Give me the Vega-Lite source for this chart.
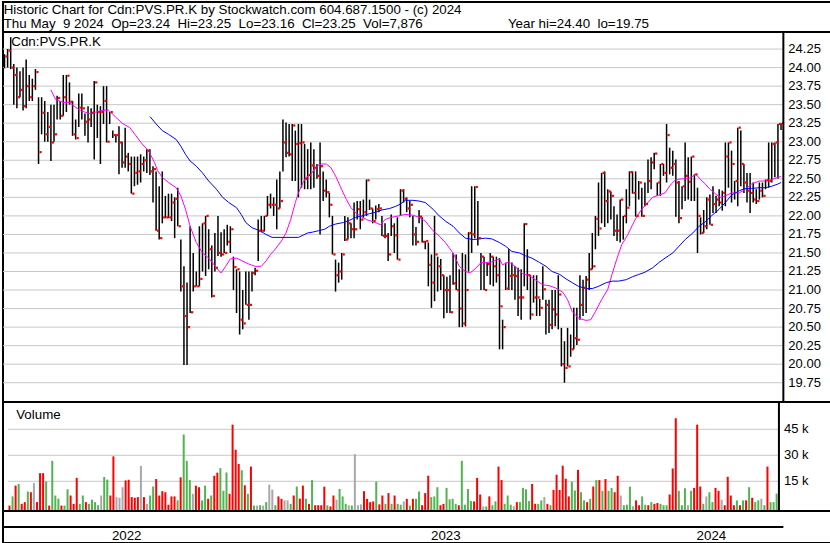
{
"$schema":"https://vega.github.io/schema/vega-lite/v6.json",
"background":"white",
"padding":{"left":1,"top":1,"right":1,"bottom":1},
"autosize":{"type":"pad"},
"bounds":"flush",
"spacing":0,
"resolve":{"scale":{"color":"independent","x":"independent","y":"independent"}},
"config":{"view":{"stroke":"black","strokeWidth":2},"font":"Liberation Sans","axis":{"labelFont":"Liberation Sans","labelFontSize":13,"labelColor":"black","gridColor":"#c8c8c8","gridWidth":1,"ticks":false,"domain":false,"labelOverlap":false}},
"datasets":{
"hd":[{"r":0,"s":"Historic Chart for Cdn:PVS.PR.K by Stockwatch.com 604.687.1500 - (c) 2024"},{"r":1,"s":"Thu May\u00a0\u00a09 2024\u00a0\u00a0Op=23.24\u00a0\u00a0Hi=23.25\u00a0\u00a0Lo=23.16\u00a0\u00a0Cl=23.25\u00a0\u00a0Vol=7,876\u00a0\u00a0\u00a0\u00a0\u00a0\u00a0\u00a0\u00a0\u00a0\u00a0\u00a0\u00a0\u00a0\u00a0\u00a0\u00a0\u00a0\u00a0\u00a0\u00a0\u00a0\u00a0\u00a0Year hi=24.40\u00a0\u00a0lo=19.75"}],
"gp":[{"g":19.75},{"g":20},{"g":20.25},{"g":20.5},{"g":20.75},{"g":21},{"g":21.25},{"g":21.5},{"g":21.75},{"g":22},{"g":22.25},{"g":22.5},{"g":22.75},{"g":23},{"g":23.25},{"g":23.5},{"g":23.75},{"g":24},{"g":24.25}],
"gv":[{"g":15,"s":"15 k"},{"g":30,"s":"30 k"},{"g":45,"s":"45 k"}],
"yr":[{"y":"2022","m":79},{"y":"2023","m":285.3},{"y":"2024","m":457}],
"d":[
{"t":0,"h":24.18,"l":23.99,"c":24.15,"v":1,"k":"r"},
{"t":2,"h":24.25,"l":24.0,"c":24.23,"v":6.3,"k":"g"},
{"t":4,"h":24.41,"l":23.98,"c":24.0,"v":12.5,"k":"r"},
{"t":6,"h":24.05,"l":23.5,"c":23.9,"v":13.5,"k":"g"},
{"t":8,"h":24.0,"l":23.45,"c":23.6,"v":2,"k":"r"},
{"t":10,"h":23.95,"l":23.6,"c":23.7,"v":3,"k":"r"},
{"t":12,"h":24.0,"l":23.42,"c":23.48,"v":9.1,"k":"g"},
{"t":14,"h":24.11,"l":23.45,"c":23.75,"v":8.7,"k":"r"},
{"t":16,"h":23.9,"l":23.55,"c":23.6,"v":14,"k":"n"},
{"t":18,"h":23.85,"l":23.55,"c":23.75,"v":3,"k":"r"},
{"t":20,"h":23.98,"l":23.7,"c":23.94,"v":19.7,"k":"r"},
{"t":22,"h":23.6,"l":22.7,"c":22.86,"v":19.7,"k":"r"},
{"t":24,"h":23.6,"l":23.1,"c":23.39,"v":15,"k":"g"},
{"t":26,"h":23.55,"l":23.0,"c":23.1,"v":1,"k":"r"},
{"t":28,"h":23.4,"l":23.0,"c":23.2,"v":26.8,"k":"g"},
{"t":30,"h":23.5,"l":22.74,"c":22.99,"v":6.8,"k":"g"},
{"t":32,"h":23.5,"l":23.0,"c":23.1,"v":5,"k":"g"},
{"t":34,"h":23.62,"l":23.3,"c":23.59,"v":1,"k":"r"},
{"t":36,"h":23.55,"l":23.3,"c":23.35,"v":1,"k":"g"},
{"t":38,"h":23.9,"l":23.35,"c":23.6,"v":10.4,"k":"g"},
{"t":40,"h":23.9,"l":23.4,"c":23.89,"v":6.8,"k":"r"},
{"t":42,"h":23.8,"l":23.5,"c":23.54,"v":2,"k":"r"},
{"t":44,"h":23.55,"l":23.08,"c":23.1,"v":17,"k":"r"},
{"t":46,"h":23.3,"l":23.03,"c":23.05,"v":2,"k":"g"},
{"t":48,"h":23.65,"l":23.2,"c":23.46,"v":6.8,"k":"g"},
{"t":50,"h":23.65,"l":23.3,"c":23.45,"v":3,"k":"r"},
{"t":52,"h":23.38,"l":23.08,"c":23.27,"v":2,"k":"g"},
{"t":54,"h":23.48,"l":22.99,"c":23.3,"v":4.4,"k":"g"},
{"t":56,"h":23.45,"l":23.2,"c":23.39,"v":3,"k":"g"},
{"t":58,"h":23.82,"l":22.76,"c":23.8,"v":1.2,"k":"g"},
{"t":60,"h":23.5,"l":23.05,"c":23.4,"v":6.8,"k":"n"},
{"t":62,"h":23.48,"l":22.7,"c":23.4,"v":17.5,"k":"g"},
{"t":64,"h":23.75,"l":23.24,"c":23.55,"v":16,"k":"g"},
{"t":66,"h":23.75,"l":22.99,"c":23.0,"v":6.8,"k":"r"},
{"t":68,"h":23.4,"l":23.24,"c":23.4,"v":29.4,"k":"r"},
{"t":70,"h":23.15,"l":23.05,"c":23.09,"v":5.9,"k":"n"},
{"t":72,"h":23.1,"l":22.99,"c":23.09,"v":5.5,"k":"n"},
{"t":74,"h":23.21,"l":22.56,"c":22.99,"v":11.6,"k":"n"},
{"t":76,"h":23.0,"l":22.65,"c":22.72,"v":15.5,"k":"r"},
{"t":78,"h":23.19,"l":22.65,"c":22.8,"v":15.9,"k":"r"},
{"t":80,"h":22.85,"l":22.6,"c":22.7,"v":5.9,"k":"r"},
{"t":82,"h":22.8,"l":22.3,"c":22.3,"v":5.5,"k":"r"},
{"t":84,"h":22.8,"l":22.4,"c":22.58,"v":5.9,"k":"r"},
{"t":86,"h":22.8,"l":22.42,"c":22.6,"v":23.9,"k":"n"},
{"t":88,"h":22.83,"l":22.45,"c":22.7,"v":5.9,"k":"r"},
{"t":90,"h":22.8,"l":22.6,"c":22.75,"v":2,"k":"n"},
{"t":92,"h":22.9,"l":22.58,"c":22.88,"v":6.8,"k":"g"},
{"t":94,"h":22.9,"l":22.55,"c":22.6,"v":12,"k":"g"},
{"t":96,"h":22.67,"l":22.18,"c":22.63,"v":16.3,"k":"r"},
{"t":98,"h":22.6,"l":21.8,"c":21.8,"v":6.8,"k":"r"},
{"t":100,"h":22.4,"l":21.68,"c":21.7,"v":9.3,"k":"r"},
{"t":102,"h":22.6,"l":21.9,"c":21.98,"v":8.7,"k":"r"},
{"t":104,"h":22.27,"l":21.97,"c":21.98,"v":1.5,"k":"r"},
{"t":106,"h":22.3,"l":21.97,"c":21.98,"v":6.3,"k":"r"},
{"t":108,"h":22.3,"l":21.93,"c":22.18,"v":6.3,"k":"r"},
{"t":110,"h":22.25,"l":21.7,"c":22.23,"v":4,"k":"g"},
{"t":112,"h":22.38,"l":21.86,"c":21.86,"v":17.3,"k":"r"},
{"t":114,"h":21.68,"l":20.98,"c":21.05,"v":42,"k":"g"},
{"t":116,"h":21.32,"l":19.99,"c":20.65,"v":26.8,"k":"g"},
{"t":118,"h":21.1,"l":19.99,"c":20.5,"v":15.7,"k":"g"},
{"t":120,"h":21.86,"l":20.69,"c":20.7,"v":7.8,"k":"n"},
{"t":122,"h":21.5,"l":20.98,"c":21.05,"v":12.5,"k":"r"},
{"t":124,"h":21.25,"l":21.05,"c":21.05,"v":11.6,"k":"r"},
{"t":126,"h":21.86,"l":21.05,"c":21.15,"v":4,"k":"g"},
{"t":128,"h":21.9,"l":21.25,"c":21.9,"v":12.5,"k":"g"},
{"t":130,"h":22.0,"l":21.19,"c":22.0,"v":4.9,"k":"r"},
{"t":132,"h":21.82,"l":21.28,"c":21.55,"v":6.8,"k":"g"},
{"t":134,"h":21.6,"l":20.9,"c":20.92,"v":18.2,"k":"r"},
{"t":136,"h":21.77,"l":21.25,"c":21.3,"v":20,"k":"r"},
{"t":138,"h":22.0,"l":21.46,"c":21.5,"v":22.6,"k":"g"},
{"t":140,"h":21.78,"l":21.45,"c":21.48,"v":9.5,"k":"g"},
{"t":142,"h":21.82,"l":21.5,"c":21.5,"v":20.1,"k":"g"},
{"t":144,"h":21.88,"l":21.6,"c":21.65,"v":7.8,"k":"r"},
{"t":146,"h":21.86,"l":21.5,"c":21.82,"v":47.7,"k":"r"},
{"t":148,"h":21.45,"l":21.0,"c":21.31,"v":33.2,"k":"r"},
{"t":150,"h":21.28,"l":20.69,"c":21.28,"v":25,"k":"r"},
{"t":152,"h":21.25,"l":20.4,"c":20.6,"v":21.4,"k":"g"},
{"t":154,"h":21.0,"l":20.47,"c":20.55,"v":12.7,"k":"r"},
{"t":156,"h":21.25,"l":20.8,"c":20.8,"v":7.8,"k":"g"},
{"t":158,"h":21.25,"l":20.6,"c":20.8,"v":23.5,"k":"r"},
{"t":160,"h":21.25,"l":20.98,"c":21.23,"v":1,"k":"g"},
{"t":162,"h":21.3,"l":21.2,"c":21.26,"v":1,"k":"n"},
{"t":164,"h":21.95,"l":21.39,"c":21.8,"v":1.2,"k":"g"},
{"t":166,"h":22.0,"l":21.78,"c":21.8,"v":1,"k":"n"},
{"t":168,"h":22.0,"l":21.79,"c":22.0,"v":3,"k":"g"},
{"t":170,"h":22.27,"l":22.0,"c":22.15,"v":13.1,"k":"n"},
{"t":172,"h":22.3,"l":22.1,"c":22.15,"v":10.2,"k":"n"},
{"t":174,"h":22.25,"l":22.0,"c":22.15,"v":1.2,"k":"g"},
{"t":176,"h":22.49,"l":21.82,"c":22.1,"v":6.3,"k":"r"},
{"t":178,"h":22.6,"l":22.1,"c":22.2,"v":4.9,"k":"r"},
{"t":180,"h":23.3,"l":22.6,"c":22.99,"v":4,"k":"n"},
{"t":182,"h":23.26,"l":22.79,"c":22.85,"v":4,"k":"n"},
{"t":184,"h":23.24,"l":22.8,"c":22.83,"v":2,"k":"g"},
{"t":186,"h":23.24,"l":22.47,"c":23.22,"v":6.8,"k":"r"},
{"t":188,"h":23.15,"l":22.47,"c":22.97,"v":12,"k":"g"},
{"t":190,"h":23.24,"l":22.25,"c":22.98,"v":5,"k":"r"},
{"t":192,"h":23.24,"l":22.38,"c":22.99,"v":12.5,"k":"r"},
{"t":194,"h":22.97,"l":22.36,"c":22.5,"v":4.9,"k":"g"},
{"t":196,"h":22.9,"l":22.36,"c":22.55,"v":2,"k":"r"},
{"t":198,"h":22.99,"l":22.36,"c":22.68,"v":15.7,"k":"g"},
{"t":200,"h":22.9,"l":22.38,"c":22.65,"v":1.2,"k":"r"},
{"t":202,"h":22.7,"l":22.5,"c":22.54,"v":1.2,"k":"r"},
{"t":204,"h":22.99,"l":21.75,"c":22.67,"v":1.2,"k":"r"},
{"t":206,"h":22.6,"l":22.2,"c":22.34,"v":11.9,"k":"r"},
{"t":208,"h":22.49,"l":22.25,"c":22.32,"v":1.2,"k":"g"},
{"t":210,"h":22.31,"l":21.98,"c":22.15,"v":0.5,"k":"r"},
{"t":212,"h":22.0,"l":21.48,"c":21.48,"v":6.8,"k":"r"},
{"t":214,"h":21.41,"l":20.98,"c":21.2,"v":4.4,"k":"n"},
{"t":216,"h":21.37,"l":21.1,"c":21.25,"v":10.6,"k":"g"},
{"t":218,"h":21.5,"l":21.14,"c":21.48,"v":6.3,"k":"g"},
{"t":220,"h":22.0,"l":21.66,"c":21.68,"v":2,"k":"g"},
{"t":222,"h":21.98,"l":21.68,"c":21.9,"v":1.2,"k":"n"},
{"t":224,"h":21.9,"l":21.7,"c":21.82,"v":1,"k":"g"},
{"t":226,"h":22.18,"l":21.7,"c":21.82,"v":30.7,"k":"n"},
{"t":228,"h":22.2,"l":21.95,"c":22.09,"v":1.2,"k":"n"},
{"t":230,"h":22.2,"l":21.82,"c":21.95,"v":1.7,"k":"n"},
{"t":232,"h":22.22,"l":21.97,"c":22.05,"v":9.3,"k":"r"},
{"t":234,"h":22.49,"l":22.0,"c":22.48,"v":4.9,"k":"r"},
{"t":236,"h":22.22,"l":22.08,"c":22.1,"v":3,"k":"r"},
{"t":238,"h":22.1,"l":21.9,"c":21.93,"v":3.4,"k":"r"},
{"t":240,"h":22.14,"l":21.95,"c":22.09,"v":14.8,"k":"g"},
{"t":242,"h":22.16,"l":22.05,"c":22.1,"v":1.7,"k":"r"},
{"t":244,"h":22.0,"l":21.73,"c":21.73,"v":6.8,"k":"r"},
{"t":246,"h":21.9,"l":21.7,"c":21.73,"v":2,"k":"g"},
{"t":248,"h":21.77,"l":21.39,"c":21.48,"v":8.2,"k":"r"},
{"t":250,"h":22.02,"l":21.73,"c":21.86,"v":2,"k":"g"},
{"t":252,"h":21.9,"l":21.5,"c":21.74,"v":6.8,"k":"r"},
{"t":254,"h":21.98,"l":21.41,"c":21.41,"v":2,"k":"g"},
{"t":256,"h":22.36,"l":22.0,"c":22.34,"v":1.5,"k":"g"},
{"t":258,"h":22.36,"l":22.18,"c":22.23,"v":3.4,"k":"n"},
{"t":260,"h":22.25,"l":22.05,"c":22.1,"v":4.9,"k":"r"},
{"t":262,"h":22.2,"l":21.98,"c":22.15,"v":1,"k":"g"},
{"t":264,"h":22.0,"l":21.6,"c":21.75,"v":4.9,"k":"r"},
{"t":266,"h":21.85,"l":21.6,"c":21.65,"v":4.9,"k":"g"},
{"t":268,"h":22.08,"l":21.9,"c":21.99,"v":9.1,"k":"g"},
{"t":270,"h":21.98,"l":21.64,"c":21.65,"v":1.2,"k":"r"},
{"t":272,"h":21.66,"l":21.55,"c":21.66,"v":8.2,"k":"r"},
{"t":274,"h":21.64,"l":21.05,"c":21.34,"v":18.2,"k":"r"},
{"t":276,"h":21.48,"l":20.76,"c":21.1,"v":5.9,"k":"g"},
{"t":278,"h":22.0,"l":20.85,"c":21.48,"v":6.3,"k":"g"},
{"t":280,"h":21.45,"l":20.98,"c":21.32,"v":11.6,"k":"g"},
{"t":282,"h":21.42,"l":21.0,"c":21.2,"v":1.2,"k":"r"},
{"t":284,"h":21.2,"l":20.62,"c":21.0,"v":2,"k":"r"},
{"t":286,"h":21.18,"l":20.69,"c":21.0,"v":11.2,"k":"g"},
{"t":288,"h":21.2,"l":20.69,"c":20.7,"v":4.6,"k":"g"},
{"t":290,"h":21.5,"l":21.07,"c":21.09,"v":4.9,"k":"g"},
{"t":292,"h":21.48,"l":21.0,"c":21.0,"v":2,"k":"g"},
{"t":294,"h":21.28,"l":20.5,"c":20.75,"v":1.2,"k":"r"},
{"t":296,"h":21.5,"l":20.5,"c":20.55,"v":26.8,"k":"g"},
{"t":298,"h":21.48,"l":20.51,"c":21.0,"v":1.5,"k":"g"},
{"t":300,"h":21.78,"l":21.25,"c":21.77,"v":10.6,"k":"g"},
{"t":302,"h":22.4,"l":21.5,"c":21.75,"v":3.6,"k":"g"},
{"t":304,"h":22.4,"l":21.7,"c":22.39,"v":3.4,"k":"r"},
{"t":306,"h":22.2,"l":21.6,"c":21.7,"v":17,"k":"r"},
{"t":308,"h":21.5,"l":21.0,"c":21.45,"v":7.4,"k":"r"},
{"t":310,"h":21.45,"l":21.0,"c":21.0,"v":0.5,"k":"n"},
{"t":312,"h":21.37,"l":21.19,"c":21.35,"v":0.5,"k":"g"},
{"t":314,"h":21.5,"l":21.07,"c":21.45,"v":6.3,"k":"r"},
{"t":316,"h":21.45,"l":21.05,"c":21.32,"v":1.2,"k":"g"},
{"t":318,"h":21.45,"l":21.1,"c":21.2,"v":3.4,"k":"g"},
{"t":320,"h":21.43,"l":20.2,"c":20.78,"v":23.5,"k":"r"},
{"t":322,"h":20.6,"l":20.2,"c":20.5,"v":15.7,"k":"r"},
{"t":324,"h":21.37,"l":21.0,"c":21.02,"v":2,"k":"g"},
{"t":326,"h":21.55,"l":21.0,"c":21.19,"v":6.8,"k":"g"},
{"t":328,"h":21.37,"l":21.0,"c":21.2,"v":1.5,"k":"g"},
{"t":330,"h":21.32,"l":20.87,"c":21.19,"v":0.6,"k":"n"},
{"t":332,"h":21.3,"l":20.65,"c":20.9,"v":3,"k":"r"},
{"t":334,"h":21.28,"l":20.6,"c":20.9,"v":3,"k":"g"},
{"t":336,"h":21.9,"l":21.05,"c":21.89,"v":11.2,"k":"g"},
{"t":338,"h":21.55,"l":21.0,"c":21.2,"v":10.4,"k":"g"},
{"t":340,"h":21.2,"l":20.6,"c":20.67,"v":3.6,"k":"g"},
{"t":342,"h":21.2,"l":20.83,"c":20.9,"v":13.5,"k":"r"},
{"t":344,"h":21.2,"l":20.65,"c":20.9,"v":2,"k":"r"},
{"t":346,"h":20.88,"l":20.65,"c":20.76,"v":2,"k":"g"},
{"t":348,"h":21.32,"l":20.87,"c":21.01,"v":4,"k":"g"},
{"t":350,"h":20.87,"l":20.4,"c":20.8,"v":5.9,"k":"n"},
{"t":352,"h":20.87,"l":20.42,"c":20.53,"v":2,"k":"r"},
{"t":354,"h":21.0,"l":20.47,"c":20.74,"v":1.2,"k":"g"},
{"t":356,"h":21.0,"l":20.51,"c":20.67,"v":10,"k":"r"},
{"t":358,"h":21.2,"l":20.47,"c":20.94,"v":18.8,"k":"r"},
{"t":360,"h":20.49,"l":19.97,"c":20.0,"v":10,"k":"r"},
{"t":362,"h":20.31,"l":19.75,"c":19.95,"v":24,"k":"r"},
{"t":364,"h":20.49,"l":19.97,"c":19.97,"v":16.5,"k":"r"},
{"t":366,"h":20.4,"l":20.1,"c":20.2,"v":6.3,"k":"r"},
{"t":368,"h":20.76,"l":20.2,"c":20.35,"v":14.8,"k":"g"},
{"t":370,"h":20.76,"l":20.26,"c":20.33,"v":9.7,"k":"g"},
{"t":372,"h":21.2,"l":20.6,"c":20.8,"v":21.6,"k":"r"},
{"t":374,"h":21.14,"l":20.65,"c":21.03,"v":8.7,"k":"g"},
{"t":376,"h":21.19,"l":20.69,"c":21.14,"v":4,"k":"g"},
{"t":378,"h":21.5,"l":21.0,"c":21.28,"v":3,"k":"r"},
{"t":380,"h":21.77,"l":21.28,"c":21.32,"v":4.9,"k":"g"},
{"t":382,"h":22.0,"l":21.55,"c":21.96,"v":12,"k":"r"},
{"t":384,"h":22.45,"l":21.73,"c":21.83,"v":15.7,"k":"g"},
{"t":386,"h":22.58,"l":21.9,"c":22.58,"v":15.7,"k":"r"},
{"t":388,"h":22.6,"l":21.85,"c":22.2,"v":9.5,"k":"g"},
{"t":390,"h":22.36,"l":21.9,"c":22.33,"v":16.3,"k":"r"},
{"t":392,"h":22.33,"l":21.95,"c":22.27,"v":9.5,"k":"g"},
{"t":394,"h":22.13,"l":21.73,"c":21.8,"v":11.2,"k":"g"},
{"t":396,"h":22.02,"l":21.66,"c":21.8,"v":8.7,"k":"r"},
{"t":398,"h":22.22,"l":21.64,"c":22.22,"v":18.2,"k":"r"},
{"t":400,"h":22.0,"l":21.68,"c":22.0,"v":6.8,"k":"n"},
{"t":402,"h":22.36,"l":21.9,"c":22.11,"v":1.2,"k":"g"},
{"t":404,"h":22.6,"l":22.13,"c":22.59,"v":1.5,"k":"g"},
{"t":406,"h":22.6,"l":22.3,"c":22.31,"v":11.9,"k":"g"},
{"t":408,"h":22.6,"l":21.99,"c":22.0,"v":0.6,"k":"n"},
{"t":410,"h":22.47,"l":22.22,"c":22.45,"v":4,"k":"r"},
{"t":412,"h":22.38,"l":21.99,"c":22.0,"v":1.2,"k":"r"},
{"t":414,"h":22.45,"l":22.13,"c":22.16,"v":6.3,"k":"g"},
{"t":416,"h":22.76,"l":22.31,"c":22.47,"v":1.5,"k":"g"},
{"t":418,"h":22.79,"l":22.36,"c":22.72,"v":1.2,"k":"r"},
{"t":420,"h":22.85,"l":22.63,"c":22.84,"v":3,"k":"g"},
{"t":422,"h":22.45,"l":22.27,"c":22.45,"v":2,"k":"r"},
{"t":424,"h":22.7,"l":22.27,"c":22.7,"v":2.5,"k":"r"},
{"t":426,"h":22.7,"l":22.54,"c":22.58,"v":2,"k":"g"},
{"t":428,"h":23.24,"l":22.45,"c":23.09,"v":1.2,"k":"g"},
{"t":430,"h":22.92,"l":22.56,"c":22.65,"v":1.2,"k":"g"},
{"t":432,"h":22.88,"l":22.54,"c":22.7,"v":7.4,"k":"r"},
{"t":434,"h":22.76,"l":21.99,"c":22.45,"v":22.4,"k":"r"},
{"t":436,"h":22.47,"l":21.9,"c":21.97,"v":51.4,"k":"r"},
{"t":438,"h":22.4,"l":22.09,"c":22.4,"v":9.5,"k":"g"},
{"t":440,"h":22.99,"l":22.2,"c":22.54,"v":1.2,"k":"g"},
{"t":442,"h":22.79,"l":22.22,"c":22.46,"v":11,"k":"g"},
{"t":444,"h":22.8,"l":22.2,"c":22.8,"v":1.2,"k":"n"},
{"t":446,"h":22.56,"l":22.2,"c":22.56,"v":9.5,"k":"g"},
{"t":448,"h":22.38,"l":21.5,"c":22.0,"v":11.2,"k":"r"},
{"t":450,"h":21.98,"l":21.75,"c":21.77,"v":47.7,"k":"r"},
{"t":452,"h":22.08,"l":21.77,"c":21.86,"v":12,"k":"r"},
{"t":454,"h":22.25,"l":21.82,"c":22.22,"v":2,"k":"g"},
{"t":456,"h":22.29,"l":21.88,"c":21.88,"v":6.3,"k":"n"},
{"t":458,"h":22.4,"l":22.04,"c":22.16,"v":8.7,"k":"g"},
{"t":460,"h":22.27,"l":22.04,"c":22.22,"v":3,"k":"g"},
{"t":462,"h":22.36,"l":22.13,"c":22.18,"v":11.2,"k":"r"},
{"t":464,"h":22.34,"l":22.07,"c":22.31,"v":9.5,"k":"r"},
{"t":466,"h":22.99,"l":22.13,"c":22.8,"v":4.4,"k":"n"},
{"t":468,"h":22.99,"l":22.38,"c":22.99,"v":1.2,"k":"r"},
{"t":470,"h":22.88,"l":22.18,"c":22.7,"v":17.6,"k":"r"},
{"t":472,"h":22.47,"l":22.22,"c":22.47,"v":6.8,"k":"r"},
{"t":474,"h":23.19,"l":22.13,"c":23.19,"v":1.2,"k":"r"},
{"t":476,"h":23.15,"l":22.4,"c":22.7,"v":4,"k":"g"},
{"t":478,"h":22.7,"l":22.31,"c":22.45,"v":1.2,"k":"r"},
{"t":480,"h":22.58,"l":22.18,"c":22.34,"v":4,"k":"g"},
{"t":482,"h":22.58,"l":22.04,"c":22.31,"v":4,"k":"r"},
{"t":484,"h":22.45,"l":22.18,"c":22.22,"v":11.6,"k":"g"},
{"t":486,"h":22.36,"l":22.16,"c":22.2,"v":5.5,"k":"r"},
{"t":488,"h":22.45,"l":22.22,"c":22.34,"v":3,"k":"g"},
{"t":490,"h":22.45,"l":22.25,"c":22.27,"v":4,"k":"g"},
{"t":492,"h":22.49,"l":22.36,"c":22.48,"v":4.9,"k":"n"},
{"t":494,"h":22.99,"l":22.38,"c":22.47,"v":1.2,"k":"g"},
{"t":496,"h":22.99,"l":22.45,"c":22.97,"v":23.5,"k":"r"},
{"t":498,"h":22.99,"l":22.52,"c":22.99,"v":3,"k":"g"},
{"t":500,"h":23.24,"l":22.5,"c":23.24,"v":3,"k":"g"},
{"t":502,"h":23.25,"l":23.16,"c":23.25,"v":7.9,"k":"g"}
],
"ma":[
{"t":30,"p":23.7,"s":"m"},{"t":33,"p":23.57,"s":"m"},{"t":38,"p":23.53,"s":"m"},{"t":42,"p":23.53,"s":"m"},{"t":45,"p":23.48,"s":"m"},{"t":49,"p":23.42,"s":"m"},{"t":55,"p":23.38,"s":"m"},{"t":59,"p":23.4,"s":"m"},{"t":63,"p":23.42,"s":"m"},{"t":67,"p":23.43,"s":"m"},{"t":69,"p":23.39,"s":"m"},{"t":72,"p":23.33,"s":"m"},{"t":76,"p":23.25,"s":"m"},{"t":81,"p":23.19,"s":"m"},{"t":85,"p":23.08,"s":"m"},{"t":89,"p":22.97,"s":"m"},{"t":93,"p":22.88,"s":"m"},{"t":97,"p":22.72,"s":"m"},{"t":99,"p":22.61,"s":"m"},{"t":102,"p":22.52,"s":"m"},{"t":106,"p":22.45,"s":"m"},{"t":111,"p":22.38,"s":"m"},{"t":114,"p":22.27,"s":"m"},{"t":117,"p":22.09,"s":"m"},{"t":120,"p":21.86,"s":"m"},{"t":124,"p":21.64,"s":"m"},{"t":128,"p":21.5,"s":"m"},{"t":132,"p":21.43,"s":"m"},{"t":137,"p":21.3,"s":"m"},{"t":140,"p":21.23,"s":"m"},{"t":143,"p":21.32,"s":"m"},{"t":146,"p":21.42,"s":"m"},{"t":150,"p":21.43,"s":"m"},{"t":154,"p":21.39,"s":"m"},{"t":158,"p":21.35,"s":"m"},{"t":162,"p":21.32,"s":"m"},{"t":166,"p":21.32,"s":"m"},{"t":169,"p":21.39,"s":"m"},{"t":172,"p":21.48,"s":"m"},{"t":175,"p":21.55,"s":"m"},{"t":179,"p":21.66,"s":"m"},{"t":182,"p":21.77,"s":"m"},{"t":185,"p":21.95,"s":"m"},{"t":188,"p":22.18,"s":"m"},{"t":190,"p":22.31,"s":"m"},{"t":193,"p":22.45,"s":"m"},{"t":195,"p":22.52,"s":"m"},{"t":198,"p":22.56,"s":"m"},{"t":201,"p":22.65,"s":"m"},{"t":204,"p":22.7,"s":"m"},{"t":208,"p":22.7,"s":"m"},{"t":211,"p":22.65,"s":"m"},{"t":214,"p":22.54,"s":"m"},{"t":217,"p":22.4,"s":"m"},{"t":221,"p":22.22,"s":"m"},{"t":224,"p":22.11,"s":"m"},{"t":227,"p":22.04,"s":"m"},{"t":230,"p":22.0,"s":"m"},{"t":234,"p":21.95,"s":"m"},{"t":237,"p":21.93,"s":"m"},{"t":240,"p":21.91,"s":"m"},{"t":243,"p":21.88,"s":"m"},{"t":246,"p":21.95,"s":"m"},{"t":250,"p":21.98,"s":"m"},{"t":255,"p":22.0,"s":"m"},{"t":259,"p":22.02,"s":"m"},{"t":264,"p":22.01,"s":"m"},{"t":268,"p":21.98,"s":"m"},{"t":272,"p":21.93,"s":"m"},{"t":277,"p":21.8,"s":"m"},{"t":281,"p":21.73,"s":"m"},{"t":285,"p":21.64,"s":"m"},{"t":290,"p":21.5,"s":"m"},{"t":294,"p":21.32,"s":"m"},{"t":298,"p":21.25,"s":"m"},{"t":301,"p":21.23,"s":"m"},{"t":305,"p":21.3,"s":"m"},{"t":308,"p":21.37,"s":"m"},{"t":311,"p":21.37,"s":"m"},{"t":315,"p":21.38,"s":"m"},{"t":320,"p":21.42,"s":"m"},{"t":322,"p":21.34,"s":"m"},{"t":326,"p":21.38,"s":"m"},{"t":330,"p":21.32,"s":"m"},{"t":335,"p":21.22,"s":"m"},{"t":339,"p":21.2,"s":"m"},{"t":343,"p":21.14,"s":"m"},{"t":348,"p":21.07,"s":"m"},{"t":352,"p":21.06,"s":"m"},{"t":356,"p":21.03,"s":"m"},{"t":361,"p":20.97,"s":"m"},{"t":364,"p":20.87,"s":"m"},{"t":367,"p":20.71,"s":"m"},{"t":371,"p":20.62,"s":"m"},{"t":376,"p":20.59,"s":"m"},{"t":379,"p":20.6,"s":"m"},{"t":382,"p":20.71,"s":"m"},{"t":386,"p":20.87,"s":"m"},{"t":390,"p":21.01,"s":"m"},{"t":393,"p":21.23,"s":"m"},{"t":396,"p":21.43,"s":"m"},{"t":399,"p":21.61,"s":"m"},{"t":403,"p":21.75,"s":"m"},{"t":406,"p":21.88,"s":"m"},{"t":409,"p":22.0,"s":"m"},{"t":412,"p":22.09,"s":"m"},{"t":415,"p":22.16,"s":"m"},{"t":419,"p":22.25,"s":"m"},{"t":423,"p":22.28,"s":"m"},{"t":427,"p":22.31,"s":"m"},{"t":431,"p":22.43,"s":"m"},{"t":434,"p":22.49,"s":"m"},{"t":438,"p":22.5,"s":"m"},{"t":442,"p":22.5,"s":"m"},{"t":447,"p":22.56,"s":"m"},{"t":450,"p":22.49,"s":"m"},{"t":453,"p":22.43,"s":"m"},{"t":456,"p":22.36,"s":"m"},{"t":460,"p":22.29,"s":"m"},{"t":463,"p":22.25,"s":"m"},{"t":466,"p":22.27,"s":"m"},{"t":470,"p":22.31,"s":"m"},{"t":475,"p":22.31,"s":"m"},{"t":479,"p":22.36,"s":"m"},{"t":483,"p":22.43,"s":"m"},{"t":488,"p":22.47,"s":"m"},{"t":492,"p":22.47,"s":"m"},{"t":496,"p":22.49,"s":"m"},{"t":500,"p":22.52,"s":"m"},{"t":502,"p":22.53,"s":"m"},
{"t":94,"p":23.34,"s":"b"},{"t":98,"p":23.24,"s":"b"},{"t":102,"p":23.15,"s":"b"},{"t":106,"p":23.1,"s":"b"},{"t":111,"p":23.03,"s":"b"},{"t":114,"p":22.94,"s":"b"},{"t":117,"p":22.83,"s":"b"},{"t":120,"p":22.74,"s":"b"},{"t":124,"p":22.67,"s":"b"},{"t":128,"p":22.58,"s":"b"},{"t":132,"p":22.47,"s":"b"},{"t":137,"p":22.36,"s":"b"},{"t":141,"p":22.25,"s":"b"},{"t":145,"p":22.18,"s":"b"},{"t":150,"p":22.11,"s":"b"},{"t":153,"p":22.02,"s":"b"},{"t":156,"p":21.91,"s":"b"},{"t":160,"p":21.84,"s":"b"},{"t":165,"p":21.8,"s":"b"},{"t":169,"p":21.75,"s":"b"},{"t":173,"p":21.71,"s":"b"},{"t":190,"p":21.71,"s":"b"},{"t":193,"p":21.74,"s":"b"},{"t":196,"p":21.77,"s":"b"},{"t":199,"p":21.78,"s":"b"},{"t":203,"p":21.8,"s":"b"},{"t":207,"p":21.82,"s":"b"},{"t":210,"p":21.86,"s":"b"},{"t":214,"p":21.89,"s":"b"},{"t":219,"p":21.91,"s":"b"},{"t":223,"p":21.94,"s":"b"},{"t":227,"p":21.98,"s":"b"},{"t":231,"p":22.0,"s":"b"},{"t":236,"p":22.03,"s":"b"},{"t":240,"p":22.05,"s":"b"},{"t":244,"p":22.08,"s":"b"},{"t":249,"p":22.1,"s":"b"},{"t":253,"p":22.13,"s":"b"},{"t":256,"p":22.16,"s":"b"},{"t":259,"p":22.21,"s":"b"},{"t":264,"p":22.21,"s":"b"},{"t":268,"p":22.2,"s":"b"},{"t":272,"p":22.18,"s":"b"},{"t":277,"p":22.09,"s":"b"},{"t":281,"p":22.0,"s":"b"},{"t":285,"p":21.93,"s":"b"},{"t":290,"p":21.86,"s":"b"},{"t":294,"p":21.77,"s":"b"},{"t":298,"p":21.7,"s":"b"},{"t":303,"p":21.68,"s":"b"},{"t":307,"p":21.69,"s":"b"},{"t":311,"p":21.7,"s":"b"},{"t":315,"p":21.69,"s":"b"},{"t":320,"p":21.64,"s":"b"},{"t":324,"p":21.59,"s":"b"},{"t":328,"p":21.52,"s":"b"},{"t":333,"p":21.5,"s":"b"},{"t":337,"p":21.46,"s":"b"},{"t":341,"p":21.43,"s":"b"},{"t":346,"p":21.37,"s":"b"},{"t":350,"p":21.32,"s":"b"},{"t":354,"p":21.25,"s":"b"},{"t":359,"p":21.21,"s":"b"},{"t":363,"p":21.15,"s":"b"},{"t":367,"p":21.1,"s":"b"},{"t":371,"p":21.05,"s":"b"},{"t":376,"p":21.02,"s":"b"},{"t":380,"p":21.02,"s":"b"},{"t":384,"p":21.05,"s":"b"},{"t":389,"p":21.1,"s":"b"},{"t":393,"p":21.12,"s":"b"},{"t":397,"p":21.12,"s":"b"},{"t":402,"p":21.14,"s":"b"},{"t":406,"p":21.18,"s":"b"},{"t":410,"p":21.21,"s":"b"},{"t":414,"p":21.24,"s":"b"},{"t":419,"p":21.3,"s":"b"},{"t":423,"p":21.37,"s":"b"},{"t":427,"p":21.43,"s":"b"},{"t":432,"p":21.5,"s":"b"},{"t":436,"p":21.59,"s":"b"},{"t":440,"p":21.68,"s":"b"},{"t":445,"p":21.77,"s":"b"},{"t":449,"p":21.86,"s":"b"},{"t":453,"p":21.92,"s":"b"},{"t":457,"p":22.0,"s":"b"},{"t":462,"p":22.09,"s":"b"},{"t":466,"p":22.18,"s":"b"},{"t":470,"p":22.28,"s":"b"},{"t":475,"p":22.34,"s":"b"},{"t":479,"p":22.37,"s":"b"},{"t":483,"p":22.37,"s":"b"},{"t":488,"p":22.38,"s":"b"},{"t":492,"p":22.38,"s":"b"},{"t":496,"p":22.4,"s":"b"},{"t":500,"p":22.43,"s":"b"},{"t":502,"p":22.45,"s":"b"}
]
},
"vconcat":[
{"width":828,"height":30,"data":{"name":"hd"},
 "mark":{"type":"text","align":"left","baseline":"alphabetic","fontSize":13.33,"font":"Liberation Sans","color":"black"},
 "encoding":{
  "x":{"datum":-0.5,"type":"quantitative","scale":{"domain":[-0.97,534.3],"nice":false,"zero":false},"axis":null},
  "y":{"field":"r","type":"quantitative","scale":{"domain":[-0.918,1.321],"reverse":true,"nice":false,"zero":false},"axis":null},
  "text":{"field":"s"}}},
{"width":828,"height":370,
 "layer":[
  {"data":{"name":"gp"},"mark":{"type":"rule","color":"#c8c8c8","strokeWidth":1},
   "encoding":{"x":{"datum":-0.97,"type":"quantitative","scale":{"domain":[-0.97,534.3],"nice":false,"zero":false},"axis":null},"x2":{"datum":503.5},
    "y":{"field":"g","type":"quantitative","scale":{"domain":[19.49,24.48],"nice":false,"zero":false},"axis":null}}},
  {"data":{"name":"d"},"mark":{"type":"rule","color":"black","strokeWidth":1.5},
   "encoding":{"x":{"field":"t","type":"quantitative","scale":{"domain":[-0.97,534.3],"nice":false,"zero":false},
     "axis":{"orient":"bottom","grid":true,"labels":false,"ticks":false,"domain":false,"title":null,"values":[14.5,36.5,56.5,78.5,99.5,119.5,141.5,161.5,182.5,201.5,224.5,243.5,265.5,287.5,307.5,329.5,349.5,370.5,392.5,411.5,433.5,453.5,473.5,495.5]}},
    "y":{"field":"l","type":"quantitative","scale":{"domain":[19.49,24.48],"nice":false,"zero":false},"axis":null},
    "y2":{"field":"h"}}},
  {"data":{"name":"ma"},"mark":{"type":"line","strokeWidth":1},
   "encoding":{"x":{"field":"t","type":"quantitative","scale":{"domain":[-0.97,534.3],"nice":false,"zero":false},"axis":null},
    "y":{"field":"p","type":"quantitative","scale":{"domain":[19.49,24.48],"nice":false,"zero":false},"axis":null},
    "color":{"field":"s","type":"nominal","scale":{"domain":["m","b"],"range":["#ff00ff","#0000ff"]},"legend":null}}},
  {"data":{"name":"d"},"mark":{"type":"point","shape":"square","filled":true,"size":5,"color":"#ff0000","opacity":1,"xOffset":2,"strokeWidth":0},
   "encoding":{"x":{"field":"t","type":"quantitative","scale":{"domain":[-0.97,534.3],"nice":false,"zero":false},"axis":null},
    "y":{"field":"c","type":"quantitative","scale":{"domain":[19.49,24.48],"nice":false,"zero":false},"axis":null}}},
  {"data":{"values":[{}]},"mark":{"type":"rule","color":"black","strokeWidth":2},
   "encoding":{"x":{"datum":503.5,"type":"quantitative","scale":{"domain":[-0.97,534.3],"nice":false,"zero":false},"axis":null},
    "y":{"datum":19.49,"type":"quantitative","scale":{"domain":[19.49,24.48],"nice":false,"zero":false},"axis":null},"y2":{"datum":24.48}}},
  {"data":{"name":"gp"},"mark":{"type":"text","align":"left","baseline":"middle","fontSize":13,"font":"Liberation Sans","color":"black","dx":5},
   "encoding":{"x":{"datum":503.5,"type":"quantitative","scale":{"domain":[-0.97,534.3],"nice":false,"zero":false},"axis":null},
    "y":{"field":"g","type":"quantitative","scale":{"domain":[19.49,24.48],"nice":false,"zero":false},"axis":null},
    "text":{"field":"g","type":"quantitative","format":".2f"}}},
  {"data":{"values":[{}]},"mark":{"type":"text","align":"left","baseline":"alphabetic","fontSize":13.33,"font":"Liberation Sans","color":"black","text":"Cdn:PVS.PR.K"},
   "encoding":{"x":{"datum":4.4,"type":"quantitative","scale":{"domain":[-0.97,534.3],"nice":false,"zero":false},"axis":null},
    "y":{"datum":24.285,"type":"quantitative","scale":{"domain":[19.49,24.48],"nice":false,"zero":false},"axis":null}}}
 ]},
{"width":828,"height":109,
 "layer":[
  {"data":{"name":"gv"},"mark":{"type":"rule","color":"#c8c8c8","strokeWidth":1},
   "encoding":{"x":{"datum":-0.97,"type":"quantitative","scale":{"domain":[-0.97,534.3],"nice":false,"zero":false},"axis":null},"x2":{"datum":503.5},
    "y":{"field":"g","type":"quantitative","scale":{"domain":[-2.13,60.75],"nice":false,"zero":false},"axis":null}}},
  {"data":{"name":"d"},"mark":{"type":"bar","width":2},
   "encoding":{"x":{"field":"t","type":"quantitative","scale":{"domain":[-0.97,534.3],"nice":false,"zero":false},
     "axis":{"orient":"bottom","grid":true,"labels":false,"ticks":false,"domain":false,"title":null,"values":[14.5,36.5,56.5,78.5,99.5,119.5,141.5,161.5,182.5,201.5,224.5,243.5,265.5,287.5,307.5,329.5,349.5,370.5,392.5,411.5,433.5,453.5,473.5,495.5]}},
    "y":{"field":"v","type":"quantitative","scale":{"domain":[-2.13,60.75],"nice":false,"zero":false},"axis":null},
    "y2":{"datum":-2.13},
    "color":{"field":"k","type":"nominal","scale":{"domain":["r","g","n"],"range":["#ff0000","#50b450","#a8a8a8"]},"legend":null}}},
  {"data":{"values":[{}]},"mark":{"type":"rule","color":"black","strokeWidth":2},
   "encoding":{"x":{"datum":503.5,"type":"quantitative","scale":{"domain":[-0.97,534.3],"nice":false,"zero":false},"axis":null},
    "y":{"datum":-2.13,"type":"quantitative","scale":{"domain":[-2.13,60.75],"nice":false,"zero":false},"axis":null},"y2":{"datum":60.75}}},
  {"data":{"name":"gv"},"mark":{"type":"text","align":"left","baseline":"middle","fontSize":13,"font":"Liberation Sans","color":"black","dx":5},
   "encoding":{"x":{"datum":503.5,"type":"quantitative","scale":{"domain":[-0.97,534.3],"nice":false,"zero":false},"axis":null},
    "y":{"field":"g","type":"quantitative","scale":{"domain":[-2.13,60.75],"nice":false,"zero":false},"axis":null},
    "text":{"field":"s"}}},
  {"data":{"values":[{}]},"mark":{"type":"text","align":"left","baseline":"alphabetic","fontSize":13.33,"font":"Liberation Sans","color":"black","text":"Volume"},
   "encoding":{"x":{"datum":4.4,"type":"quantitative","scale":{"domain":[-0.97,534.3],"nice":false,"zero":false},"axis":null},
    "y":{"datum":50.77,"type":"quantitative","scale":{"domain":[-2.13,60.75],"nice":false,"zero":false},"axis":null}}}
 ]},
{"width":828,"height":32,
 "layer":[
  {"data":{"values":[{}]},"mark":{"type":"rule","color":"black","strokeWidth":2},
   "encoding":{"x":{"datum":-0.97,"type":"quantitative","scale":{"domain":[-0.97,534.3],"nice":false,"zero":false},
     "axis":{"orient":"bottom","grid":true,"gridColor":"black","gridWidth":2,"labels":false,"ticks":false,"domain":false,"title":null,"values":[161.5,411.5,503.5]}},
    "x2":{"datum":503.5},
    "y":{"datum":1,"type":"quantitative","scale":{"domain":[0,2],"nice":false,"zero":false},"axis":null}}},
  {"data":{"name":"yr"},"mark":{"type":"text","align":"center","baseline":"alphabetic","fontSize":13.33,"font":"Liberation Sans","color":"black"},
   "encoding":{"x":{"field":"m","type":"quantitative","scale":{"domain":[-0.97,534.3],"nice":false,"zero":false},"axis":null},
    "y":{"datum":0.16,"type":"quantitative","scale":{"domain":[0,2],"nice":false,"zero":false},"axis":null},
    "text":{"field":"y"}}}
 ]}
]
}
